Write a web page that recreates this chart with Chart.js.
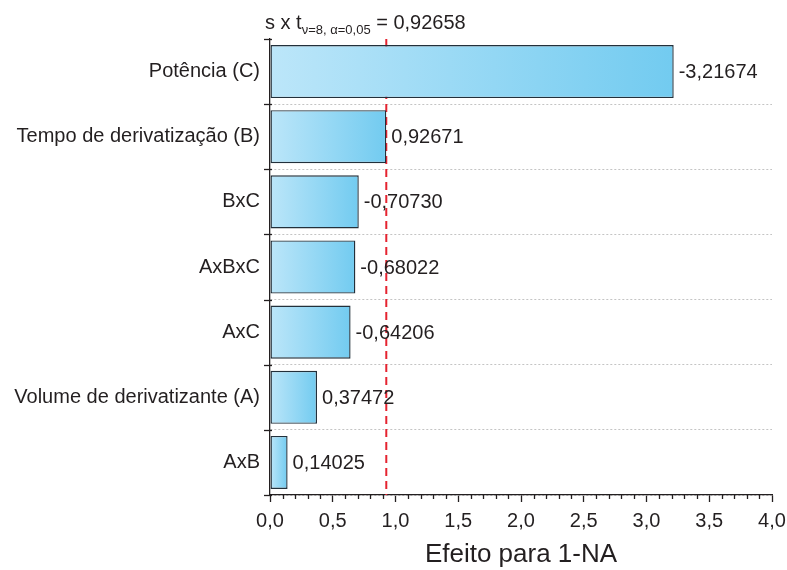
<!DOCTYPE html>
<html>
<head>
<meta charset="utf-8">
<script src="https://cdn.jsdelivr.net/npm/chart.js@4"></script>
<style>
  html, body { margin: 0; padding: 0; background: #fff; }
  #wrap { width: 787px; height: 570px; }
</style>
</head>
<body>
<div id="wrap"><canvas id="effects-chart" width="787" height="570"></canvas></div>
<script>
const categories = ["Potência (C)", "Tempo de derivatização (B)", "BxC", "AxBxC", "AxC", "Volume de derivatizante (A)", "AxB"];
const effects = [-3.21674, 0.92671, -0.70730, -0.68022, -0.64206, 0.37472, 0.14025];
const criticalValue = 0.92658;
const xMin = 0;
const xMax = 4;
const xStep = 0.5;
const minorStep = 0.1;

const FONT = 'Arial, "Liberation Sans", sans-serif';
const TEXT = "#231f20";

const fmt = (v, d) => v.toFixed(d).replace(".", ",");

// bar labels, red critical line, axis tick marks and the top note
const extras = {
  id: "extras",
  beforeDatasetsDraw(chart) {
    const { ctx, chartArea, scales } = chart;
    const x = scales.x.getPixelForValue(criticalValue);
    ctx.save();
    ctx.strokeStyle = "#e52330";
    ctx.lineWidth = 2;
    ctx.setLineDash([8, 5]);
    ctx.beginPath();
    ctx.moveTo(x, chartArea.top);
    ctx.lineTo(x, chartArea.bottom);
    ctx.stroke();
    ctx.restore();
  },
  afterDraw(chart) {
    const { ctx, chartArea, scales } = chart;
    const y = scales.y;
    const xs = scales.x;
    ctx.save();
    ctx.strokeStyle = TEXT;
    ctx.lineWidth = 1.3;
    // y ticks at category boundaries
    const half = (y.getPixelForValue(1) - y.getPixelForValue(0)) / 2;
    for (let i = 0; i <= categories.length; i++) {
      const py = Math.round(y.getPixelForValue(i) - half) + 0.5;
      ctx.beginPath();
      ctx.moveTo(chartArea.left - 6, py);
      ctx.lineTo(chartArea.left + 2, py);
      ctx.stroke();
    }
    // minor x ticks
    for (let v = xMin + minorStep; v < xMax; v += minorStep) {
      const r = Math.round(v * 10) / 10;
      if (Math.abs(r / xStep - Math.round(r / xStep)) < 1e-6) continue;
      const px = Math.round(xs.getPixelForValue(r)) + 0.5;
      ctx.beginPath();
      ctx.moveTo(px, chartArea.bottom);
      ctx.lineTo(px, chartArea.bottom + 4);
      ctx.stroke();
    }
    // value labels
    ctx.fillStyle = TEXT;
    ctx.font = "20px " + FONT;
    ctx.textBaseline = "middle";
    ctx.textAlign = "left";
    chart.getDatasetMeta(0).data.forEach((bar, i) => {
      ctx.fillText(fmt(effects[i], 5), bar.x + 5, bar.y + 1);
    });
    // note above the plot
    let tx = 265;
    const base = 29;
    ctx.textBaseline = "alphabetic";
    ctx.font = "20px " + FONT;
    ctx.fillText("s x t", tx, base);
    tx += ctx.measureText("s x t").width;
    ctx.font = "13px " + FONT;
    ctx.fillText("\u03bd=8, \u03b1=0,05", tx, base + 5);
    tx += ctx.measureText("\u03bd=8, \u03b1=0,05").width;
    ctx.font = "20px " + FONT;
    ctx.fillText(" = " + fmt(criticalValue, 5), tx, base);
    ctx.restore();
  }
};

const config = {
  type: "bar",
  data: {
    labels: categories,
    datasets: [{
      data: effects.map(Math.abs),
      backgroundColor: (c) => {
        const chart = c.chart;
        if (!chart.chartArea || c.raw === undefined) return "#9ad8f4";
        const x0 = chart.scales.x.getPixelForValue(0);
        const x1 = chart.scales.x.getPixelForValue(c.raw);
        const g = chart.ctx.createLinearGradient(x0, 0, x1, 0);
        g.addColorStop(0, "#bce6f9");
        g.addColorStop(1, "#72cbf0");
        return g;
      },
      borderColor: "#22303b",
      borderWidth: 1.4,
      borderSkipped: false,
      barPercentage: 0.815,
      categoryPercentage: 1
    }]
  },
  options: {
    indexAxis: "y",
    responsive: false,
    animation: false,
    layout: { padding: { top: 39, right: 15, left: 0, bottom: 0 } },
    plugins: {
      legend: { display: false },
      tooltip: { enabled: false }
    },
    scales: {
      x: {
        min: xMin,
        max: xMax,
        afterFit: (s) => { s.height = 75; s.paddingLeft = 0; s.paddingRight = 0; },
        ticks: {
          stepSize: xStep,
          padding: 7,
          color: TEXT,
          font: { family: FONT, size: 20 },
          callback: (v) => fmt(v, 1)
        },
        grid: {
          drawOnChartArea: false,
          drawTicks: true,
          tickLength: 7,
          tickColor: TEXT,
          tickWidth: 1.3
        },
        border: { display: true, color: TEXT, width: 1.3 },
        title: {
          display: true,
          text: "Efeito para 1-NA",
          color: TEXT,
          font: { family: FONT, size: 26 },
          padding: { top: 0, bottom: 0 }
        }
      },
      y: {
        afterFit: (s) => { s.width = 270; },
        ticks: {
          padding: 10,
          color: TEXT,
          font: { family: FONT, size: 20 }
        },
        grid: {
          offset: true,
          drawTicks: false,
          lineWidth: 1,
          color: (c) => (c.index === 0 || c.index === categories.length) ? "rgba(0,0,0,0)" : "#c4c4c4"
        },
        border: { display: true, color: TEXT, width: 1.3, dash: [2, 2] }
      }
    }
  },
  plugins: [extras]
};

const ctx_bar = document.getElementById("effects-chart").getContext("2d");
const effectsChart = new Chart(ctx_bar, config);
</script>
</body>
</html>
